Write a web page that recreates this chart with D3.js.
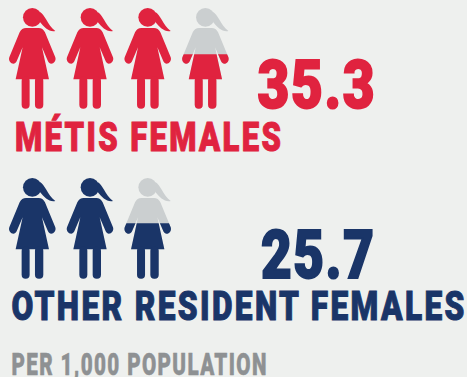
<!DOCTYPE html>
<html><head><meta charset="utf-8">
<script src="https://cdn.jsdelivr.net/npm/d3@7/dist/d3.min.js"></script>
<style>html,body{margin:0;padding:0;background:#eef0ee;overflow:hidden}</style>
</head><body><svg id="c" width="467" height="377"></svg>
<script>
const labels = ["MÉTIS FEMALES", "OTHER RESIDENT FEMALES"];
const rates = [35.3, 25.7];
const rateLabels = ["35.3", "25.7"];
const partialFill = [0.54, 0.55];   // filled share of the last icon, as drawn
const colors = ["#e0233f", "#1a3568"];
const emptyColor = "#cbcfd0";
const footnote = "PER 1,000 POPULATION";
const perIcon = 10;

const svg = d3.select("#c");
const font = "Roboto, 'Liberation Sans Narrow', sans-serif";
const x = d3.scaleLinear().domain([0, 1]).range([32.3, 90]);       // icon index -> centre
const rowY = d3.scaleLinear().domain([0, 1]).range([0, 170]);      // row index -> offset
const fillY = d3.scaleLinear().domain([0, 1]).range([326, 24]);    // share -> glyph y

const dress = "M78,84H116C124,84 131,88 135,97L166,172C171,187 151,200 144,184L126,142L147,238H47L68,142L50,184C43,200 23,187 28,172L59,97C63,88 70,84 78,84Z";
const tail = "M120,36C134,42 142,74 166,93C148,97 133,82 120,66Z";

function glyph(g, color) {
  g.attr("fill", color);
  g.append("circle").attr("cx", 97).attr("cy", 52).attr("r", 28);
  g.append("path").attr("d", tail);
  g.append("path").attr("d", dress);
  g.append("rect").attr("x", 65).attr("y", 230).attr("width", 24).attr("height", 96).attr("rx", 12);
  g.append("rect").attr("x", 105).attr("y", 230).attr("width", 25).attr("height", 96).attr("rx", 12);
}

const defs = svg.append("defs");
rates.forEach((rate, r) => {
  const n = Math.ceil(rate / perIcon);
  const row = svg.append("g").attr("transform", `translate(0,${rowY(r)})`);
  d3.range(n).forEach(i => {
    const ic = row.append("g").attr("transform", `translate(${x(i) - 97 / 3},0) scale(${1 / 3})`);
    if (i === n - 1) {
      glyph(ic.append("g"), emptyColor);
      const id = "clip" + r;
      const top = fillY(partialFill[r]);
      defs.append("clipPath").attr("id", id).append("rect")
        .attr("x", 0).attr("y", top).attr("width", 200).attr("height", fillY(0) - top + 2);
      glyph(ic.append("g").attr("clip-path", `url(#${id})`), colors[r]);
    } else {
      glyph(ic.append("g"), colors[r]);
    }
  });
});

function txt(s, x0, y0, w, size, color, sw, ls) {
  const t = svg.append("text").text(s)
    .attr("font-family", font).attr("font-weight", 900).attr("font-size", size)
    .attr("letter-spacing", ls)
    .attr("fill", color).attr("stroke", color).attr("stroke-width", sw);
  const len = t.node().getComputedTextLength() - ls;
  t.attr("transform", `translate(${x0},${y0}) scale(${w / len},1)`);
}
const numX = [257.5, 261], numW = [117, 113], numB = [108, 277.7];
const labX = [15, 11.5], labW = [266, 453], labB = [151.3, 319.7];
rates.forEach((_, r) => {
  txt(rateLabels[r], numX[r], numB[r], numW[r], 66, colors[r], 2, 2);
  txt(labels[r], labX[r], labB[r], labW[r], 40, colors[r], 1, 3);
});
txt(footnote, 11.5, 375, 255, 30.5, "#8e9193", 0.5, 2);
</script></body></html>
